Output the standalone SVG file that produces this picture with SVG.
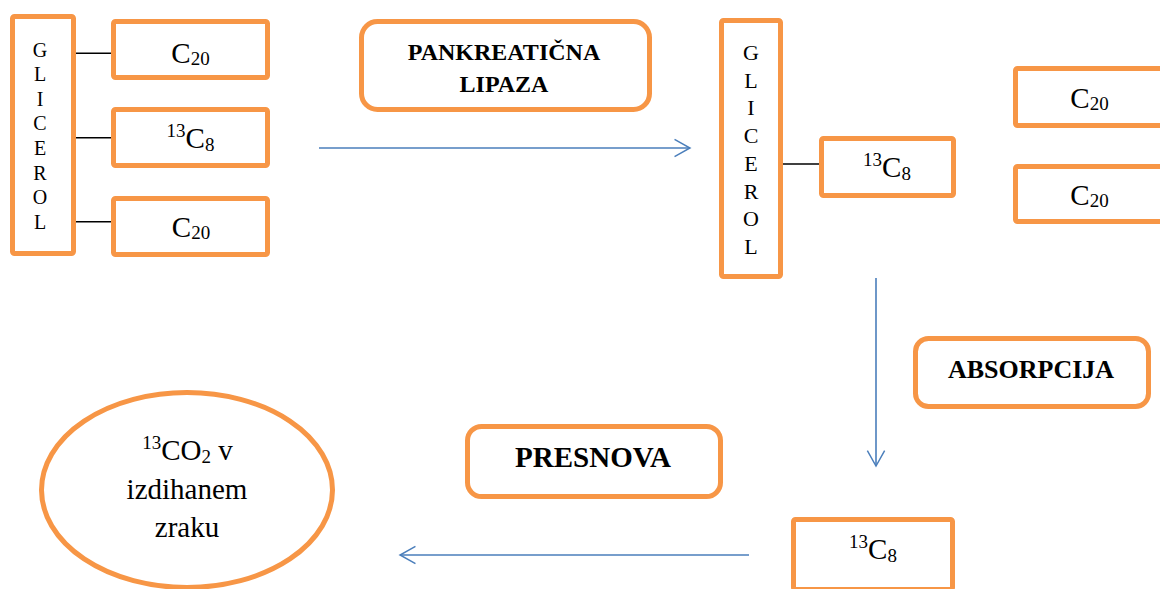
<svg xmlns="http://www.w3.org/2000/svg" width="1160" height="589" viewBox="0 0 1160 589">
<defs>
<style>
.box{fill:#fff;stroke:#F79646;stroke-width:5}
.t{font-family:"Liberation Serif","Times New Roman",serif;fill:#000}
.c{font-size:29px;text-anchor:middle}
.s{font-size:19px}
.lbl{font-size:24px;font-weight:bold;text-anchor:middle}
.gl{font-size:20px;text-anchor:middle}
.link{stroke:#000;stroke-width:1.6}
.arr{stroke:#4A7EBB;stroke-width:1.6;fill:none}
</style>
<marker id="ah" markerUnits="userSpaceOnUse" markerWidth="20" markerHeight="24" refX="0" refY="0" viewBox="-20 -12 22 24" orient="auto" overflow="visible">
<path d="M-17,-9.5 L0,0 L-17,9.5" fill="none" stroke="#4A7EBB" stroke-width="1.6"/>
</marker>
</defs>
<rect width="1160" height="589" fill="#fff"/>

<g id="connectors">
<line class="link" x1="74" y1="53.3" x2="113" y2="53.3"/>
<line class="link" x1="74" y1="137.7" x2="113" y2="137.7"/>
<line class="link" x1="74" y1="221.7" x2="113" y2="221.7"/>
<line class="link" x1="781" y1="164" x2="821" y2="164"/>
<line class="arr" x1="319" y1="148" x2="690" y2="148" marker-end="url(#ah)"/>
<line class="arr" x1="876" y1="278" x2="876" y2="466" marker-end="url(#ah)"/>
<line class="arr" x1="749" y1="555" x2="400" y2="555" marker-end="url(#ah)"/>
</g>

<g id="glicerol1">
<rect class="box" x="12.5" y="16.5" width="61" height="237" rx="2"/>
<text class="t gl" x="40"><tspan x="40" y="56.5">G</tspan><tspan x="40" y="81.1">L</tspan><tspan x="40" y="105.7">I</tspan><tspan x="40" y="130.3">C</tspan><tspan x="40" y="154.9">E</tspan><tspan x="40" y="179.5">R</tspan><tspan x="40" y="204.1">O</tspan><tspan x="40" y="228.7">L</tspan></text>
</g>
<g id="c20a">
<rect class="box" x="113.5" y="21.5" width="154" height="56" rx="2"/>
<text class="t c" x="190.5" y="62.5">C<tspan class="s" dy="2">20</tspan></text>
</g>
<g id="c8a">
<rect class="box" x="113.5" y="109.5" width="154" height="56" rx="2"/>
<text class="t c" x="190.5" y="148"><tspan class="s" dy="-11">13</tspan><tspan dy="11">C</tspan><tspan class="s" dy="3">8</tspan></text>
</g>
<g id="c20b">
<rect class="box" x="113.5" y="198.5" width="154" height="56" rx="2"/>
<text class="t c" x="191" y="237">C<tspan class="s" dy="2">20</tspan></text>
</g>

<g id="lipaza">
<rect class="box" x="361.5" y="21.5" width="288" height="88" rx="16"/>
<text class="t lbl" x="504" y="60">PANKREATIČNA</text>
<text class="t lbl" x="504" y="92">LIPAZA</text>
</g>

<g id="glicerol2">
<rect class="box" x="721.5" y="20.5" width="59" height="256" rx="2"/>
<text class="t gl" x="751" style="font-size:22px"><tspan x="751" y="60">G</tspan><tspan x="751" y="87.7">L</tspan><tspan x="751" y="115.4">I</tspan><tspan x="751" y="143.1">C</tspan><tspan x="751" y="170.8">E</tspan><tspan x="751" y="198.5">R</tspan><tspan x="751" y="226.2">O</tspan><tspan x="751" y="253.9">L</tspan></text>
</g>
<g id="c8b">
<rect class="box" x="821.5" y="138.5" width="132" height="57" rx="2"/>
<text class="t c" x="887" y="177"><tspan class="s" dy="-11">13</tspan><tspan dy="11">C</tspan><tspan class="s" dy="3">8</tspan></text>
</g>
<g id="c20c">
<rect class="box" x="1015.5" y="68.5" width="150" height="57" rx="2"/>
<text class="t c" x="1089.5" y="108">C<tspan class="s" dy="2">20</tspan></text>
</g>
<g id="c20d">
<rect class="box" x="1015.5" y="166.5" width="150" height="55" rx="2"/>
<text class="t c" x="1089.5" y="205">C<tspan class="s" dy="2">20</tspan></text>
</g>

<g id="absorpcija">
<rect class="box" x="915.5" y="338.5" width="233" height="68" rx="13"/>
<text class="t lbl" x="1031" y="378" style="font-size:26px">ABSORPCIJA</text>
</g>

<g id="presnova">
<rect class="box" x="467.5" y="426.5" width="253" height="70" rx="14"/>
<text class="t lbl" x="593" y="467" style="font-size:29px">PRESNOVA</text>
</g>

<g id="c8c">
<rect class="box" x="793.5" y="519.5" width="159" height="70" rx="2"/>
<text class="t c" x="873" y="559"><tspan class="s" dy="-11">13</tspan><tspan dy="11">C</tspan><tspan class="s" dy="3">8</tspan></text>
</g>

<g id="co2">
<ellipse class="box" cx="187" cy="490" rx="145.5" ry="97.5"/>
<text class="t c" x="187.5" y="460"><tspan class="s" dy="-11">13</tspan><tspan dy="11">CO</tspan><tspan class="s" dy="3">2</tspan><tspan dy="-3"> v</tspan></text>
<text class="t c" x="187" y="499">izdihanem</text>
<text class="t c" x="187" y="537">zraku</text>
</g>
</svg>
